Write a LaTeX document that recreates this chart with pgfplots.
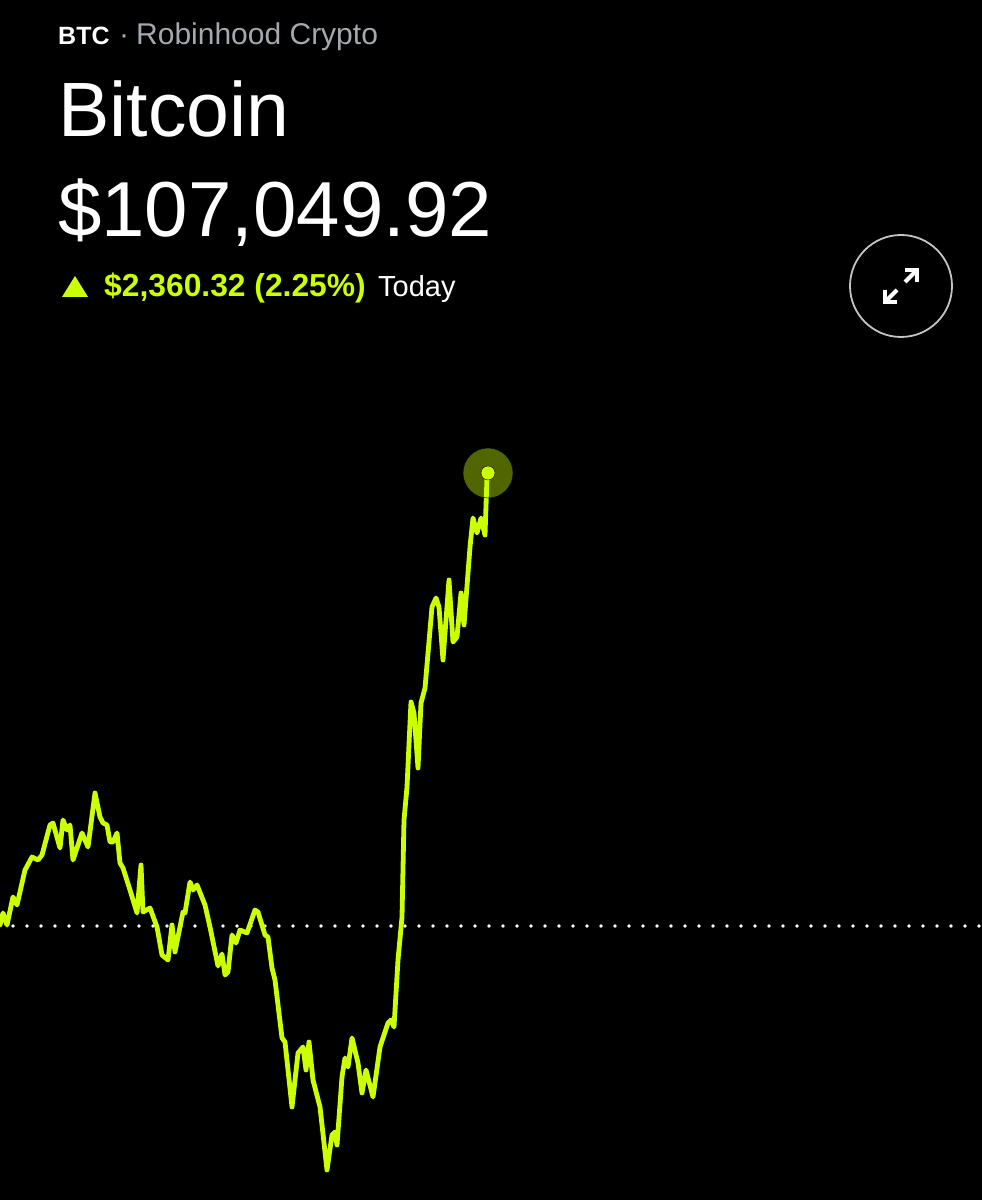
\documentclass[border=0pt]{standalone}
\usepackage{pgfplots}
\pgfplotsset{compat=1.18}
\usepackage{fontspec}
\setmainfont{Liberation Sans}
\definecolor{neon}{HTML}{CCFF00}
\definecolor{subgray}{HTML}{A3A9AF}
\definecolor{ringgray}{HTML}{C4C4C4}
\pgfplotstableread{
x y
0 275
3 287
7 275
13 303
17 295
25 330
32 343
38 340
42 345
50 375
53 377
60 352
63 380
67 370
70 375
73 340
82 367
88 353
95 407
100 383
103 377
107 375
110 358
113 358
117 367
120 337
123 332
130 310
137 287
141 335
143 288
150 292
157 273
162 245
168 240
172 275
175 248
183 288
185 287
190 318
193 310
197 315
205 295
210 273
218 234
222 246
225 225
228 228
232 265
236 257
240 270
247 267
255 290
258 288
265 265
268 263
272 232
275 220
282 162
285 158
292 93
298 147
303 153
306 130
309 158
313 120
320 93
327 30
332 65
335 68
337 55
342 123
345 142
348 133
352 162
358 137
362 107
366 130
373 103
380 153
388 177
391 180
394 173
398 240
402 283
404 380
407 413
411 498
414 487
418 432
421 497
425 512
432 593
436 602
439 593
443 540
449 620
453 558
457 563
461 607
464 575
470 653
473 682
477 667
481 682
485 665
487 723
488 727
}\btcdata
\begin{document}
\begin{tikzpicture}
\fill[black] (0,0) rectangle (982pt,1200pt);
\begin{axis}[
  scale only axis, width=982pt, height=1200pt,
  xmin=0, xmax=982, ymin=0, ymax=1200,
  hide axis, clip=true,
]
% header text
\node[anchor=base west, text=white, font=\fontsize{25}{30}\selectfont\bfseries, inner sep=0pt] at (axis cs:58,1155) {BTC};
\node[anchor=base west, text=subgray, font=\fontsize{30}{34}\selectfont, inner sep=0pt] at (axis cs:119,1155) {·};
\node[anchor=base west, text=subgray, font=\fontsize{30}{34}\selectfont, inner sep=0pt] at (axis cs:136,1155) {Robinhood Crypto};
\node[anchor=base west, text=white, font=\fontsize{77}{80}\selectfont, inner sep=0pt] at (axis cs:58,1063) {Bitcoin};
\node[anchor=base west, text=white, font=\fontsize{78}{80}\selectfont, inner sep=0pt] at (axis cs:58,963) {\$107,049.92};
\fill[neon] (axis cs:62,903) -- (axis cs:88,903) -- (axis cs:75,924) -- cycle;
\node[anchor=base west, text=neon, font=\fontsize{31.8}{34}\selectfont\bfseries, inner sep=0pt] at (axis cs:104,903) {\$2,360.32 (2.25\%)};
\node[anchor=base west, text=white, font=\fontsize{29}{34}\selectfont, inner sep=0pt] at (axis cs:378,903) {Today};
% expand button
\draw[ringgray, line width=1.8pt] (axis cs:901,914) circle[radius=51pt];
\draw[white, line width=4pt, line cap=butt, line join=miter] (axis cs:905,930) -- (axis cs:917,930) -- (axis cs:917,918);
\draw[white, line width=4pt] (axis cs:917,930) -- (axis cs:905,918);
\draw[white, line width=4pt, line cap=butt, line join=miter] (axis cs:885,910) -- (axis cs:885,898) -- (axis cs:897,898);
\draw[white, line width=4pt] (axis cs:885,898) -- (axis cs:897,910);
% dotted baseline (previous close)
\addplot[white, line width=3.8pt, line cap=round, dash pattern=on 0pt off 14pt, mark=none] coordinates {(13,274) (982,274)};
% price line
\addplot[neon, line width=4.8pt, line join=round, line cap=round, mark=none] table[x=x, y=y] {\btcdata};
% end marker
\addplot[only marks, mark=*, mark size=25pt, mark options={draw=none, fill=neon, fill opacity=0.4}] coordinates {(488,727)};
\addplot[only marks, mark=*, mark size=7pt, mark options={draw=none, fill=neon}] coordinates {(488,727)};
\end{axis}
\end{tikzpicture}
\end{document}
